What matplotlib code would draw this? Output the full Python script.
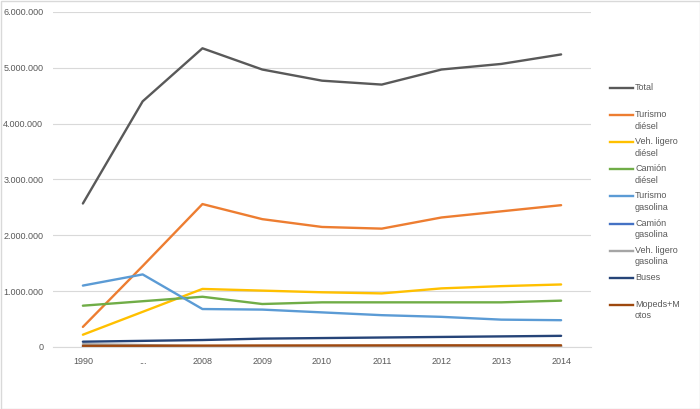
import matplotlib.pyplot as plt
from matplotlib.lines import Line2D
from matplotlib.patches import Rectangle
from matplotlib.ticker import FuncFormatter

plt.rcParams['font.family'] = ['Liberation Sans', 'DejaVu Sans']

years = ['1990', '...', '2008', '2009', '2010', '2011', '2012', '2013', '2014']

total = [2570000, 4400000, 5350000, 4970000, 4770000, 4700000, 4970000, 5070000, 5240000]
turismo_diesel = [360000, 1450000, 2560000, 2290000, 2150000, 2120000, 2320000, 2430000, 2540000]
ligero_diesel = [220000, 630000, 1040000, 1010000, 980000, 960000, 1050000, 1090000, 1120000]
camion_diesel = [740000, 820000, 900000, 770000, 800000, 800000, 800000, 800000, 830000]
turismo_gasolina = [1100000, 1300000, 680000, 670000, 620000, 570000, 540000, 490000, 480000]
camion_gasolina = [8000, 7000, 6000, 6000, 5000, 5000, 5000, 5000, 5000]
ligero_gasolina = [50000, 35000, 15000, 12000, 10000, 10000, 10000, 10000, 10000]
buses = [95000, 110000, 125000, 150000, 160000, 170000, 180000, 190000, 200000]
mopeds = [20000, 22000, 25000, 27000, 28000, 29000, 30000, 30000, 30000]

labels = ['Total', 'Turismo\ndiésel', 'Veh. ligero\ndiésel', 'Camión\ndiésel',
          'Turismo\ngasolina', 'Camión\ngasolina', 'Veh. ligero\ngasolina',
          'Buses', 'Mopeds+M\notos']
series = [total, turismo_diesel, ligero_diesel, camion_diesel, turismo_gasolina,
          camion_gasolina, ligero_gasolina, buses, mopeds]
colors = ['#595959', '#ED7D31', '#FFC000', '#70AD47', '#5B9BD5',
          '#4472C4', '#A5A5A5', '#264478', '#9E480E']

txt = '#595959'
W, H = 700, 409
fig = plt.figure(figsize=(7, 4.09), dpi=100)
ax = fig.add_axes([53 / W, 1 - 347 / H, 538 / W, 335 / H])

x = range(len(years))
for vals, col in zip(series, colors):
    ax.plot(x, vals, color=col, lw=1.7, solid_capstyle='round')

ax.set_xlim(-0.5, len(years) - 0.5)
ax.set_ylim(0, 6000000)
ax.set_yticks(range(0, 6000001, 1000000))
ax.yaxis.set_major_formatter(FuncFormatter(lambda v, p: f'{int(v):,}'.replace(',', '.')))
ax.set_xticks(list(x))
ax.set_xticklabels(years)
ax.grid(axis='y', color='#d9d9d9', lw=0.8)
ax.set_axisbelow(True)
for s in ['top', 'right', 'left']:
    ax.spines[s].set_visible(False)
ax.spines['bottom'].set_color('#d9d9d9')
ax.tick_params(length=0, labelsize=6.5, colors=txt)
ax.tick_params(axis='y', pad=7)
ax.tick_params(axis='x', pad=7)

# legend on the right, Excel style (handle aligned with first line)
for i, (lab, col) in enumerate(zip(labels, colors)):
    yp = 1 - (88 + 27.1 * i) / H
    fig.add_artist(Line2D([610 / W, 633 / W], [yp, yp], color=col, lw=1.7))
    fig.text(635 / W, yp + 5 / H, lab, fontsize=6.5, color=txt, va='top',
             ha='left', linespacing=1.35)

fig.add_artist(Rectangle((0.5 / W, 0.5 / H), 1 - 1 / W, 1 - 1 / H, fill=False,
                         edgecolor='#d9d9d9', lw=1, transform=fig.transFigure))

fig.savefig('out.png', dpi=100)
